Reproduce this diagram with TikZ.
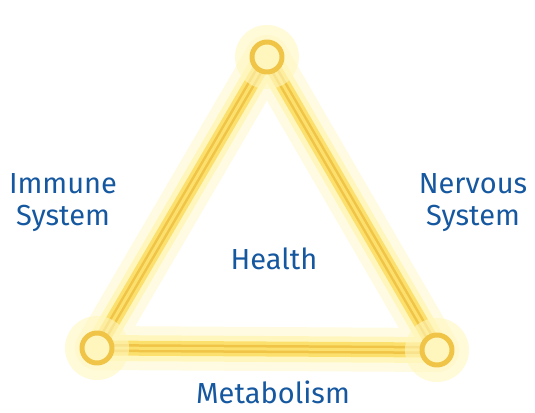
\documentclass[tikz,border=0pt]{standalone}
\usepackage{fontspec}
\setmainfont{Fira Sans}
\definecolor{labelblue}{RGB}{22,88,160}
\definecolor{glowcore}{RGB}{240,196,70}
\definecolor{glowmid}{RGB}{252,224,110}
\definecolor{glowout}{RGB}{255,246,190}
\begin{document}
\begin{tikzpicture}[x=1pt, y=-1pt, line cap=round, line join=round,
    lbl/.style={font=\fontsize{29}{32}\selectfont, text=labelblue, align=center},
    ring/.style={circle, minimum size=30pt, inner sep=0pt, draw=glowcore, line width=5pt, fill=glowout}]
  \useasboundingbox (0,0) rectangle (535,412);
  \coordinate (apex) at (267,57);
  \coordinate (baseL) at (97,348);
  \coordinate (baseR) at (437,350);
  % glow layers, widest first
  \draw[glowout, opacity=0.45, line width=44pt] (apex) -- (baseL) -- (baseR) -- cycle;
  \draw[glowout, line width=26pt] (apex) -- (baseL) -- (baseR) -- cycle;
  \draw[glowmid, line width=15pt] (apex) -- (baseL) -- (baseR) -- cycle;
  \draw[glowcore, line width=8pt] (apex) -- (baseL) -- (baseR) -- cycle;
  \draw[glowmid, line width=3pt] (apex) -- (baseL) -- (baseR) -- cycle;
  \foreach \v in {apex, baseL, baseR}
    \fill[glowout, opacity=0.6] (\v) circle (32);
  \node[ring] (ringA) at (apex) {};
  \node[ring] (ringL) at (baseL) {};
  \node[ring] (ringR) at (baseR) {};
  \node[lbl] (immune) at (63,203) {Immune\\System};
  \node[lbl] (nervous) at (473,203) {Nervous\\System};
  \node[lbl] (health) at (274,259) {Health};
  \node[lbl] (metab) at (273,392) {Metabolism};
\end{tikzpicture}
\end{document}
